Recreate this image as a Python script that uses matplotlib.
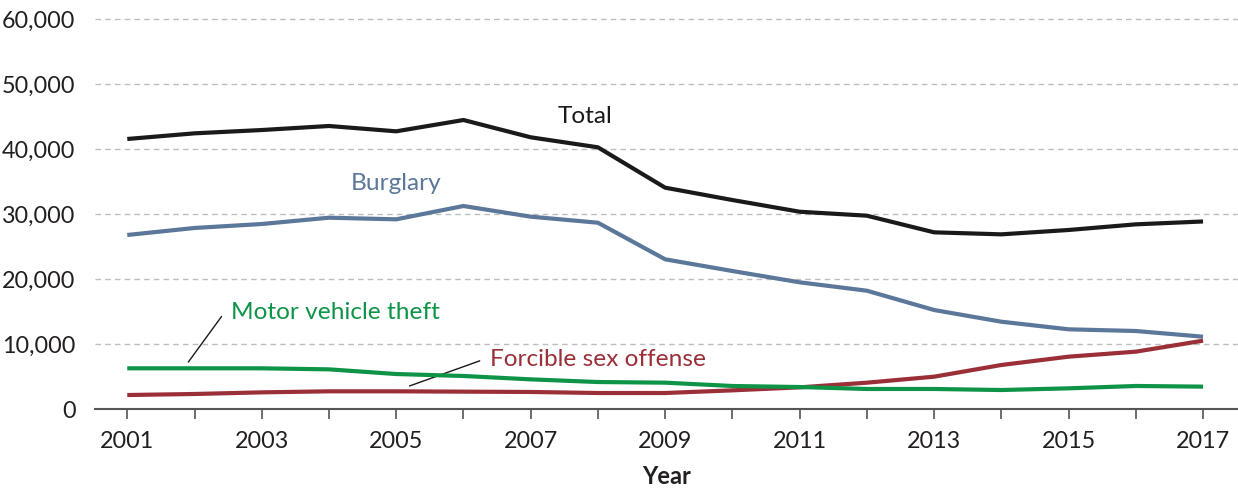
import matplotlib.pyplot as plt
from matplotlib.ticker import FuncFormatter

plt.rcParams['font.family'] = ['Lato', 'DejaVu Sans']

years = list(range(2001, 2018))
total = [41540, 42410, 42920, 43540, 42720, 44460, 41800, 40260, 34050,
         32150, 30350, 29740, 27180, 26870, 27540, 28410, 28850]
burglary = [26770, 27850, 28460, 29430, 29180, 31230, 29590, 28660, 23030,
            21230, 19490, 18200, 15230, 13430, 12260, 12000, 11120]
motor_vehicle = [6260, 6260, 6260, 6100, 5380, 5080, 4560, 4150, 4050,
                 3540, 3380, 3080, 3080, 2920, 3180, 3540, 3440]
sex_offense = [2150, 2310, 2560, 2720, 2720, 2670, 2620, 2460, 2460,
               2870, 3330, 4050, 4970, 6770, 8050, 8820, 10510]

col_total = '#1a1a1a'
col_burg = '#5b7799'
col_mvt = '#0e9447'
col_sex = '#9b2f38'

fig = plt.figure(figsize=(12.38, 4.92), dpi=100)
ax = fig.add_axes([95 / 1238, 1 - 409 / 492, 1 - 95 / 1238, 390 / 492])

ax.plot(years, burglary, color=col_burg, lw=3, solid_capstyle='butt', zorder=3)
ax.plot(years, total, color=col_total, lw=3, solid_capstyle='butt', zorder=3)
ax.plot(years, sex_offense, color=col_sex, lw=3, solid_capstyle='butt', zorder=3)
ax.plot(years, motor_vehicle, color=col_mvt, lw=3, solid_capstyle='butt', zorder=4)

ax.set_xlim(2000.52, 2017.52)
ax.set_ylim(0, 60000)
ax.set_yticks(range(0, 60001, 10000))
ax.yaxis.set_major_formatter(FuncFormatter(lambda v, p: f'{int(v):,}'))
ax.set_xticks(range(2001, 2018, 2))
ax.set_xticks(years, minor=True)

ax.grid(axis='y', color='#bdbdbd', linestyle=(0, (4, 3)), lw=1)
for gl in ax.get_ygridlines():
    gl.set_clip_on(False)
ax.yaxis.get_gridlines()[0].set_visible(False)

for side in ['left', 'right', 'top']:
    ax.spines[side].set_visible(False)
ax.spines['bottom'].set_color('#555555')
ax.spines['bottom'].set_linewidth(1.5)

ax.tick_params(axis='y', length=0, pad=14, labelsize=16.8, labelcolor='#231f20')
ax.tick_params(axis='x', which='both', length=7, width=1.2, color='#555555',
               direction='out', labelsize=16.8, labelcolor='#231f20', pad=9)

ax.set_xlabel('Year', fontsize=17, fontweight='bold', color='#231f20', labelpad=9)

# series labels
ax.text(2007.81, 45000, 'Total', color=col_total, fontsize=17.6, ha='center', va='center')
ax.text(2005.0, 34700, 'Burglary', color=col_burg, fontsize=17.6, ha='center', va='center')
ax.text(2002.55, 14900, 'Motor vehicle theft', color=col_mvt, fontsize=17.6,
        ha='left', va='center')
ax.text(2006.4, 7600, 'Forcible sex offense', color=col_sex, fontsize=17.6,
        ha='left', va='center')

# leader lines
ax.plot([2001.91, 2002.4], [7250, 14200], color='#1a1a1a', lw=1)
ax.plot([2005.2, 2006.24], [3550, 7400], color='#1a1a1a', lw=1)

fig.savefig('out.png', dpi=100)
